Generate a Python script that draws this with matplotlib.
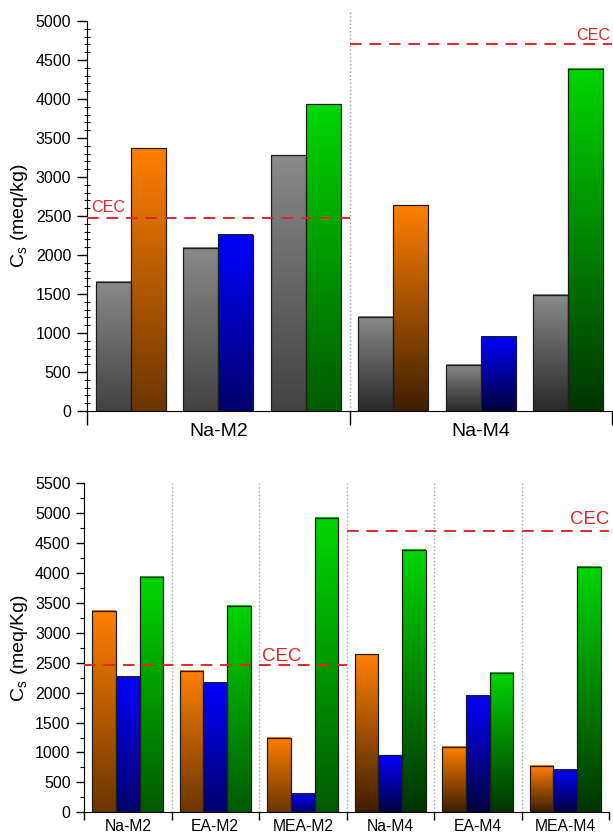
import numpy as np
import matplotlib
matplotlib.use("Agg")
import matplotlib.pyplot as plt
from matplotlib.patches import Rectangle
from matplotlib.ticker import MultipleLocator, FixedLocator

plt.rcParams['font.family'] = ['Liberation Sans', 'DejaVu Sans']
plt.rcParams['mathtext.fontset'] = 'custom'
plt.rcParams['mathtext.rm'] = 'Liberation Sans'
plt.rcParams['mathtext.it'] = 'Liberation Sans:italic'

# ---------------- data ----------------
top_groups = ["Na-M2", "Na-M4"]
top_gray = [1660, 2090, 3280, 1210, 590, 1490]
top_color = [3370, 2260, 3930, 2640, 950, 4390]

bot_categories = ["Na-M2", "EA-M2", "MEA-M2", "Na-M4", "EA-M4", "MEA-M4"]
bot_orange = [3370, 2360, 1240, 2640, 1090, 770]
bot_blue = [2260, 2160, 310, 950, 1950, 710]
bot_green = [3930, 3450, 4920, 4390, 2330, 4100]

cec_values = [2470, 4700]

# ---------------- style ----------------
ORANGE = (1.0, 0.5, 0.0)
BLUE = (0.0, 0.0, 1.0)
GREEN = (0.0, 0.84, 0.0)
GRAY = (0.54, 0.54, 0.54)
pair_colors = [ORANGE, BLUE, GREEN, ORANGE, BLUE, GREEN]
dark_factor = [0.42, 0.42, 0.42, 0.24, 0.24, 0.24]
RED = '#e02828'
EDGE = '#1e1e1e'


def grad_bar(ax, x, w, h, top_rgb, factor):
    n = 256
    t = np.linspace(0, 1, n)[:, None]
    top = np.array(top_rgb)
    bottom = top * factor
    cols = bottom + (top - bottom) * t
    img = cols[:, None, :]
    ax.imshow(img, extent=[x - w / 2, x + w / 2, 0, h], origin='lower',
              aspect='auto', interpolation='bilinear', zorder=2)
    ax.add_patch(Rectangle((x - w / 2, 0), w, h, fill=False,
                           edgecolor=EDGE, lw=0.9, zorder=3))


W, H = 613, 836
fig = plt.figure(figsize=(W / 100, H / 100), dpi=100)

# ---------------- top panel ----------------
ax1 = fig.add_axes([87 / W, 1 - 411 / H, 525 / W, 390 / H])
bw = 0.40
for i in range(6):
    c = i + 0.5
    grad_bar(ax1, c - bw / 2, bw, top_gray[i], GRAY, dark_factor[i] + 0.06)
    grad_bar(ax1, c + bw / 2, bw, top_color[i], pair_colors[i], dark_factor[i])

ax1.set_xlim(0, 6)
ax1.set_ylim(0, 5000)
ax1.spines['top'].set_visible(False)
ax1.spines['right'].set_visible(False)
ax1.yaxis.set_major_locator(MultipleLocator(500))
ax1.yaxis.set_minor_locator(MultipleLocator(100))
ax1.tick_params(axis='y', which='major', direction='out', length=7, width=1,
                labelsize=11.5, pad=4.3)
ax1.tick_params(axis='y', which='minor', direction='inout', length=5, width=0.8)
ax1.xaxis.set_major_locator(FixedLocator([0, 3, 6]))
ax1.xaxis.set_minor_locator(FixedLocator([1.5, 4.5]))
ax1.set_xticklabels([], minor=False)
ax1.set_xticklabels(top_groups, minor=True)
ax1.tick_params(axis='x', which='major', direction='out', length=10, width=1)
ax1.tick_params(axis='x', which='minor', length=0, labelsize=14, pad=9)

# divider
ax1.plot([3, 3], [0, 5140], ls=':', color='#9a9a9a', lw=1.0, clip_on=False, zorder=1)
# CEC lines
ax1.plot([0, 3], [cec_values[0]] * 2, ls=(0, (6, 4)), color=RED, lw=1.4, zorder=4)
ax1.plot([3, 6], [cec_values[1]] * 2, ls=(0, (6, 4)), color=RED, lw=1.4, zorder=4)
ax1.text(0.05, cec_values[0] + 75, "CEC", color=RED, fontsize=11.6,
         ha='left', va='baseline', zorder=5)
ax1.text(5.98, cec_values[1] + 55, "CEC", color=RED, fontsize=11.6,
         ha='right', va='baseline', zorder=5)

fig.text(20 / W, 1 - 216 / H, r"C$_\mathregular{s}$ (meq/kg)", rotation=90,
         ha='center', va='center', fontsize=14)

# ---------------- bottom panel ----------------
ax2 = fig.add_axes([84 / W, 1 - 812.3 / H, 525 / W, 329 / H])
bw2 = 0.27
for i in range(6):
    c = i + 0.5
    grad_bar(ax2, c - bw2, bw2, bot_orange[i], ORANGE, dark_factor[i])
    grad_bar(ax2, c, bw2, bot_blue[i], BLUE, dark_factor[i])
    grad_bar(ax2, c + bw2, bw2, bot_green[i], GREEN, dark_factor[i])

ax2.set_xlim(0, 6)
ax2.set_ylim(0, 5500)
ax2.spines['top'].set_visible(False)
ax2.spines['right'].set_visible(False)
ax2.yaxis.set_major_locator(MultipleLocator(500))
ax2.yaxis.set_minor_locator(MultipleLocator(250))
ax2.tick_params(axis='y', which='major', direction='out', length=6, width=1,
                labelsize=11.5, pad=3.6)
ax2.tick_params(axis='y', which='minor', direction='out', length=3, width=0.8)
ax2.xaxis.set_major_locator(FixedLocator(list(range(7))))
ax2.xaxis.set_minor_locator(FixedLocator([i + 0.5 for i in range(6)]))
ax2.set_xticklabels([], minor=False)
ax2.set_xticklabels(bot_categories, minor=True)
ax2.tick_params(axis='x', which='major', direction='out', length=6, width=1)
ax2.tick_params(axis='x', which='minor', length=0, labelsize=11.3, pad=4.5)

for xb in range(1, 6):
    ax2.plot([xb, xb], [0, 5500], ls=':', color='#a8a8a8', lw=1.0, zorder=1)
ax2.plot([0, 3], [cec_values[0]] * 2, ls=(0, (6, 4)), color=RED, lw=1.4, zorder=4)
ax2.plot([3, 6], [cec_values[1]] * 2, ls=(0, (6, 4)), color=RED, lw=1.4, zorder=4)
ax2.text(2.03, cec_values[0] + 65, "CEC", color=RED, fontsize=13.4,
         ha='left', va='baseline', zorder=5)
ax2.text(6.0, cec_values[1] + 120, "CEC", color=RED, fontsize=13.4,
         ha='right', va='baseline', zorder=5)

fig.text(20 / W, 1 - 648 / H, r"C$_\mathregular{s}$ (meq/Kg)", rotation=90,
         ha='center', va='center', fontsize=14)

fig.savefig("out.png", dpi=100)
